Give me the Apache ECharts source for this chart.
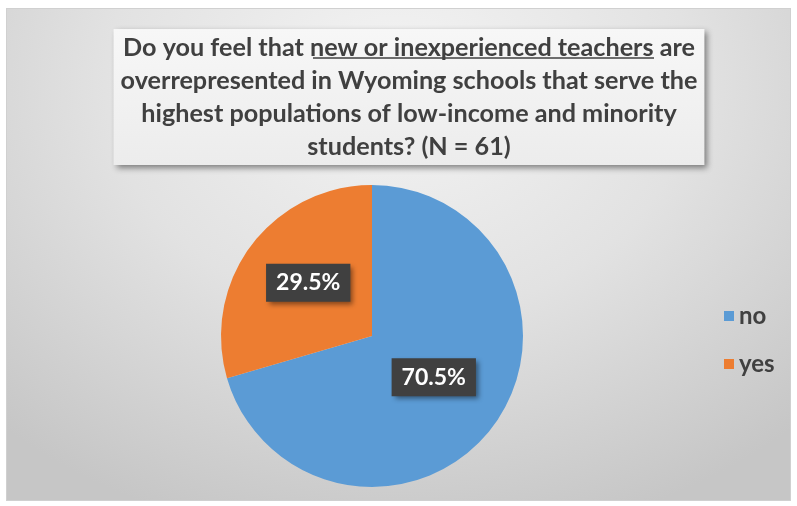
<!DOCTYPE html>
<html>
<head>
<meta charset="utf-8">
<script src="https://cdn.jsdelivr.net/npm/echarts@6/dist/echarts.min.js"></script>
<style>
  html, body { margin: 0; padding: 0; background: #fff; }
  #frame {
    position: absolute; left: 6px; top: 8px; width: 783px; height: 491px;
    border: 1px solid #d0d0d0;
    background: radial-gradient(ellipse 75% 95% at 50% 15%, #f4f4f4 0%, #e2e2e2 50%, #c6c6c6 100%);
  }
  #chart { width: 783px; height: 491px; }
</style>
</head>
<body>
<div id="frame"><div id="chart"></div></div>
<script>
// survey answers
const categories = ['no', 'yes'];
const shares = [70.5, 29.5];
const colors = ['#5b9bd5', '#ed7d31'];
const titleLines = [
  'Do you feel that new or inexperienced teachers are',
  'overrepresented in Wyoming schools that serve the',
  'highest populations of low-income and minority',
  'students? (N = 61)'
];

let chart = echarts.init(document.getElementById('chart'));
let option = {
  animation: false,
  color: colors,
  title: {
    text: titleLines.join('\n'),
    left: 395,
    top: 20,
    textAlign: 'center',
    padding: [2, 7, 2, 7],
    backgroundColor: {
      type: 'linear', x: 0, y: 0, x2: 0, y2: 1,
      colorStops: [{ offset: 0, color: '#f7f7f7' }, { offset: 1, color: '#ececec' }]
    },
    shadowColor: 'rgba(0,0,0,0.45)',
    shadowBlur: 6,
    shadowOffsetX: 3,
    shadowOffsetY: 3,
    textStyle: {
      fontFamily: 'Lato',
      fontSize: 25.2,
      fontWeight: 'bold',
      color: '#404040',
      lineHeight: 33
    }
  },
  // underline under "new or inexperienced teachers"
  graphic: [{
    type: 'line',
    silent: true,
    z: 100,
    shape: { x1: 306, y1: 49, x2: 647, y2: 49 },
    style: { stroke: '#404040', lineWidth: 1.5 }
  }],
  legend: {
    orient: 'vertical',
    left: 712,
    top: 290,
    itemWidth: 10,
    itemHeight: 10,
    itemGap: 24,
    icon: 'rect',
    data: categories,
    textStyle: { fontFamily: 'Lato', fontSize: 24, fontWeight: 'bold', color: '#404040' }
  },
  series: [{
    type: 'pie',
    center: [365, 327],
    radius: 151,
    startAngle: 90,
    clockwise: true,
    silent: true,
    label: {
      position: 'inside',
      offset: [-1, -6],
      formatter: p => p.value.toFixed(1) + '%',
      fontFamily: 'Lato',
      fontSize: 23,
      fontWeight: 'bold',
      color: '#fff',
      backgroundColor: '#404040',
      padding: [8, 10, 7, 10],
      shadowColor: 'rgba(0,0,0,0.45)',
      shadowBlur: 5,
      shadowOffsetX: 3,
      shadowOffsetY: 3
    },
    labelLine: { show: false },
    itemStyle: { borderWidth: 0 },
    data: categories.map((c, i) => ({ name: c, value: shares[i] }))
  }]
};
chart.setOption(option);
</script>
</body>
</html>
